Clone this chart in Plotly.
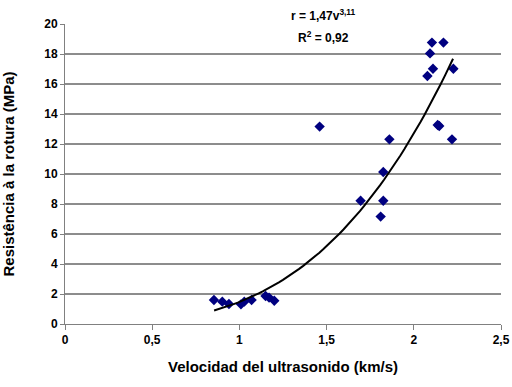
import numpy as np
import plotly.graph_objects as go

# Measured data: ultrasound velocity (km/s) vs. breaking strength (MPa)
velocidad = [0.854, 0.902, 0.94, 1.009, 1.028, 1.07, 1.15, 1.17, 1.20,
             1.46, 1.695, 1.825, 1.81, 1.825, 1.86,
             2.078, 2.11, 2.093, 2.104, 2.17, 2.137, 2.146, 2.219, 2.227]
resistencia = [1.6, 1.49, 1.33, 1.31, 1.49, 1.6, 1.87, 1.76, 1.55,
               13.16, 8.22, 8.22, 7.16, 10.13, 12.31,
               16.53, 17.02, 18.04, 18.76, 18.76, 13.27, 13.2, 12.31, 17.02]

# Power trendline r = a * v^b (coefficients as printed on the chart)
coef_a = 1.47
coef_b = 3.11
v_min, v_max = 0.855, 2.225

x_ticks = [0, 0.5, 1, 1.5, 2, 2.5]
x_tick_labels = ["0", "0,5", "1", "1,5", "2", "2,5"]
y_ticks = [0, 2, 4, 6, 8, 10, 12, 14, 16, 18, 20]
y_grid = [2, 4, 6, 8, 10, 12, 14, 16, 18]

v_fit = np.linspace(v_min, v_max, 60)
r_fit = coef_a * v_fit ** coef_b

font_family = "Liberation Sans, Arial, sans-serif"

fig = go.Figure()
fig.add_trace(go.Scatter(
    x=velocidad, y=resistencia, mode="markers",
    marker=dict(symbol="diamond", size=8, color="#000080",
                line=dict(width=0)),
    showlegend=False, hoverinfo="x+y"))
fig.add_trace(go.Scatter(
    x=v_fit, y=r_fit, mode="lines",
    line=dict(color="black", width=2),
    showlegend=False, hoverinfo="skip"))

for g in y_grid:
    fig.add_shape(type="line", xref="paper", yref="y", x0=0, x1=1, y0=g, y1=g,
                  line=dict(color="#1a1a1a", width=1), layer="below")

fig.update_layout(
    width=512, height=387,
    margin=dict(l=65, r=11, t=24, b=63),
    paper_bgcolor="white", plot_bgcolor="white",
    font=dict(family=font_family, size=12, color="black", weight="bold"),
    xaxis=dict(
        range=[0, 2.5], tickvals=x_ticks, ticktext=x_tick_labels,
        showgrid=False, zeroline=False, automargin=False,
        showline=True, linecolor="#808080", linewidth=1,
        ticks="outside", ticklen=5, tickcolor="#808080",
        tickfont=dict(size=12, family=font_family, weight="bold"),
        title=dict(text="Velocidad del ultrasonido (km/s)",
                   font=dict(size=15, family=font_family, weight="bold"),
                   standoff=15),
    ),
    yaxis=dict(
        range=[0, 20], tickvals=y_ticks,
        showgrid=False, zeroline=False, automargin=False,
        showline=True, linecolor="#808080", linewidth=1,
        ticks="outside", ticklen=4, tickcolor="#808080",
        tickfont=dict(size=12, family=font_family, weight="bold"),
        title=dict(text="Resistência à la rotura (MPa)",
                   font=dict(size=15, family=font_family, weight="bold"),
                   standoff=26),
    ),
    annotations=[
        dict(text=f"r = {str(coef_a).replace('.', ',')}v<sup>{str(coef_b).replace('.', ',')}</sup>",
             xref="paper", yref="paper", x=0.592, y=1.03, showarrow=False,
             xanchor="center", yanchor="middle",
             font=dict(size=12, family=font_family, weight="bold")),
        dict(text="R<sup>2</sup> = 0,92",
             xref="paper", yref="paper", x=0.592, y=0.957, showarrow=False,
             xanchor="center", yanchor="middle",
             font=dict(size=12, family=font_family, weight="bold")),
    ],
)

fig.write_html("out.html",
               config={"displayModeBar": False},
               post_script="document.body.style.margin='0';document.body.style.overflow='hidden';")
